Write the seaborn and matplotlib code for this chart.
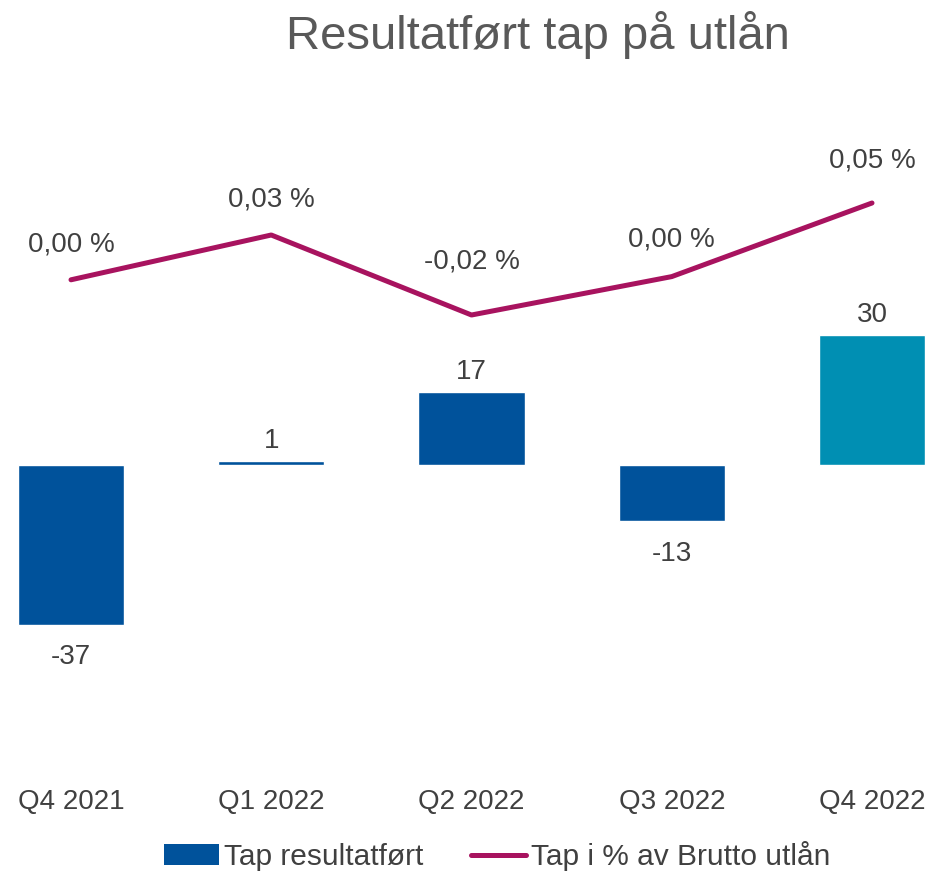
import matplotlib
matplotlib.use("Agg")
import matplotlib.pyplot as plt
import seaborn as sns
import pandas as pd
from matplotlib.patches import Patch
from matplotlib.lines import Line2D

# data
quarters = ["Q4 2021", "Q1 2022", "Q2 2022", "Q3 2022", "Q4 2022"]
tap = [-37, 1, 17, -13, 30]
tap_pct = [0.002, 0.03, -0.02, 0.004, 0.05]
pct_labels = ["0,00 %", "0,03 %", "-0,02 %", "0,00 %", "0,05 %"]

# label offsets (points) above the line points
pct_offsets = [16, 16, 29, 17, 21]

blue = "#00529B"
teal = "#008FB3"
magenta = "#A8135F"
txt = "#404040"

sns.set_theme(style="white")
plt.rcParams["font.family"] = ["Liberation Sans", "DejaVu Sans"]

W, H = 933, 871
fig = plt.figure(figsize=(W / 100, H / 100), dpi=100)
# plot area in pixels: top 100, bottom 770, full width
ax = fig.add_axes([0, (H - 770) / H, 1, (770 - 100) / H])

df = pd.DataFrame({"quarter": quarters, "tap": tap})
sns.barplot(data=df, x="quarter", y="tap", hue="quarter",
            palette=[blue, blue, blue, blue, teal], width=0.53,
            legend=False, ax=ax, saturation=1)

# pixel mapping: category i at 71 + 200.25*i
ax.set_xlim(-71 / 200.25, (W - 71) / 200.25)
ax.set_ylim(-(770 - 465) / 4.32, (465 - 100) / 4.32)

for i, v in enumerate(tap):
    if v >= 0:
        ax.annotate(str(v), (i, v), xytext=(0, 5), textcoords="offset points",
                    ha="center", va="bottom", fontsize=20, color=txt)
    else:
        ax.annotate(str(v), (i, v), xytext=(0, -14), textcoords="offset points",
                    ha="center", va="top", fontsize=20, color=txt)

ax2 = ax.twinx()
ldf = pd.DataFrame({"x": range(len(quarters)), "pct": tap_pct})
sns.lineplot(data=ldf, x="x", y="pct", color=magenta, linewidth=3.6,
             ax=ax2, solid_capstyle="round")
ax2.set_ylim(-(770 - 283) / 1600, (283 - 100) / 1600)

for i, (p, lab, off) in enumerate(zip(tap_pct, pct_labels, pct_offsets)):
    ax2.annotate(lab, (i, p), xytext=(0, off), textcoords="offset points",
                 ha="center", va="bottom", fontsize=20, color=txt)

for a in (ax, ax2):
    for s in a.spines.values():
        s.set_visible(False)
    a.set_yticks([])
    a.set_ylabel("")
    a.set_xlabel("")
    a.grid(False)

ax.set_xticks(range(len(quarters)), quarters)
ax.set_xlim(-71 / 200.25, (W - 71) / 200.25)
ax.tick_params(axis="x", length=0, pad=14, labelsize=20, labelcolor=txt,
               labelbottom=True)

fig.text(538 / W, 1 - 35 / H, "Resultatført tap på utlån", ha="center",
         va="center", fontsize=34, color="#595959")

handles = [Patch(facecolor=blue, edgecolor="none"),
           Line2D([0], [0], color=magenta, linewidth=3.6, solid_capstyle="round")]
fig.legend(handles, ["Tap resultatført", "Tap i % av Brutto utlån"],
           loc="center", bbox_to_anchor=(497 / W, 1 - 856 / H), ncol=2,
           frameon=False, fontsize=21.5, labelcolor=txt, handlelength=1.85,
           handletextpad=0.15, columnspacing=1.6, borderaxespad=0)

fig.savefig("out.png", dpi=100)
